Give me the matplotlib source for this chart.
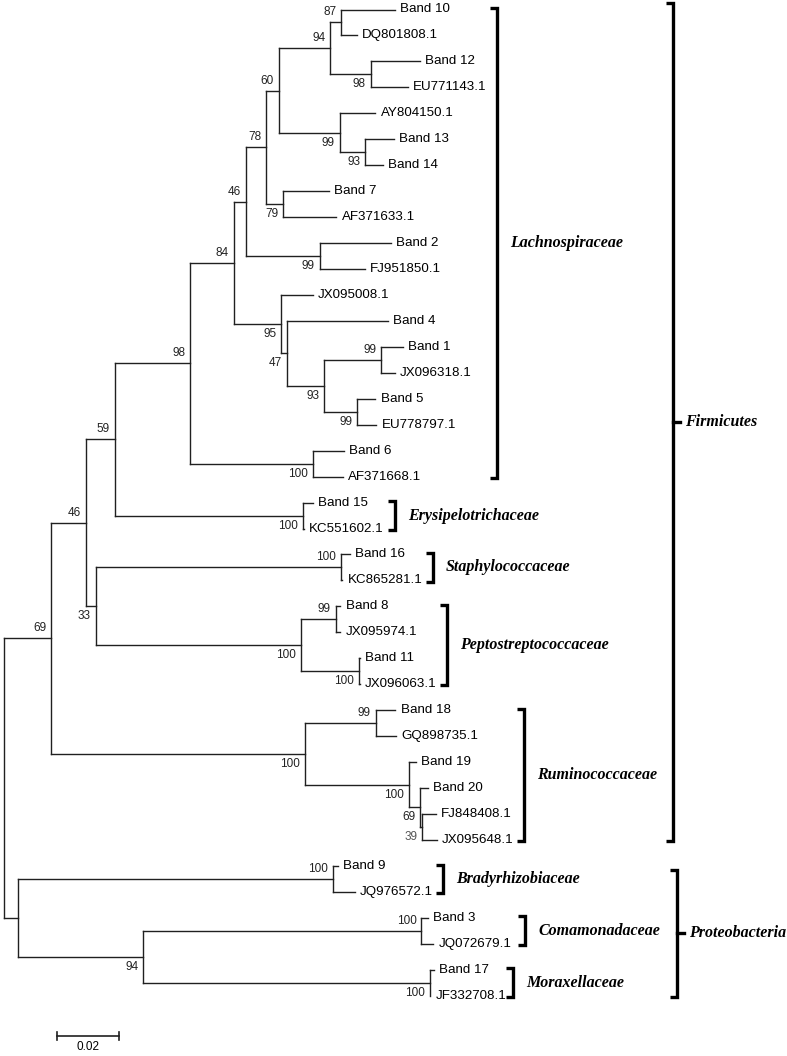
import matplotlib
matplotlib.use("Agg")
import matplotlib.pyplot as plt

plt.rcParams['font.family'] = ['Liberation Sans', 'DejaVu Sans']

# leaves from top to bottom, their parent node and terminal branch length
leaves = ["Band 10", "DQ801808.1", "Band 12", "EU771143.1", "AY804150.1",
          "Band 13", "Band 14", "Band 7", "AF371633.1", "Band 2", "FJ951850.1",
          "JX095008.1", "Band 4", "Band 1", "JX096318.1", "Band 5", "EU778797.1",
          "Band 6", "AF371668.1", "Band 15", "KC551602.1", "Band 16", "KC865281.1",
          "Band 8", "JX095974.1", "Band 11", "JX096063.1", "Band 18", "GQ898735.1",
          "Band 19", "Band 20", "FJ848408.1", "JX095648.1", "Band 9", "JQ976572.1",
          "Band 3", "JQ072679.1", "Band 17", "JF332708.1"]
leaf_parent = ["L87", "L87", "L98b", "L98b", "L99a", "L93a", "L93a", "L79", "L79",
               "L99b", "L99b", "L95", "L47", "L99c", "L99c", "L99d", "L99d", "L100",
               "L100", "E100", "E100", "S100", "S100", "Pe99", "Pe99", "Pe100b",
               "Pe100b", "R99", "R99", "R100b", "R69", "R39", "R39", "B100", "B100",
               "C100", "C100", "M100", "M100"]
leaf_len = [0.0173, 0.0049, 0.0159, 0.0120, 0.0116, 0.0092, 0.0056, 0.0148, 0.0173,
            0.0232, 0.0146, 0.0102, 0.0327, 0.0070, 0.0043, 0.0060, 0.0063, 0.0100,
            0.0097, 0.0032, 0.0003, 0.0027, 0.0003, 0.0015, 0.0015, 0.0002, 0.0002,
            0.0064, 0.0067, 0.0021, 0.0025, 0.0044, 0.0046, 0.0015, 0.0070, 0.0020,
            0.0038, 0.0013, 0.0002]

# internal nodes: name, parent, branch length, bootstrap
node_names = ["root", "P", "F69", "F46", "F59", "L98", "L84", "L46", "L78", "L60",
              "L94", "L87", "L98b", "L99a", "L93a", "L79", "L99b", "L95", "L47",
              "L93b", "L99c", "L99d", "L100", "E100", "F33", "S100", "Pe100", "Pe99",
              "Pe100b", "R100", "R99", "R100b", "R69", "R39", "B100", "P94", "C100",
              "M100"]
node_parent = [None, "root", "root", "F69", "F46", "F59", "L98", "L84", "L46", "L78",
               "L60", "L94", "L94", "L60", "L99a", "L78", "L46", "L84", "L95",
               "L47", "L93b", "L93b", "L98", "F59", "F46", "F33", "F33", "Pe100",
               "Pe100", "F69", "R100", "R100", "R100b", "R69", "P", "P", "P94",
               "P94"]
node_len = [0.0, 0.0045, 0.0152, 0.0113, 0.0094, 0.0245, 0.0141, 0.0040, 0.0065,
            0.0040, 0.0168, 0.0036, 0.0131, 0.0198, 0.0083, 0.0054, 0.0238, 0.0154,
            0.0018, 0.0120, 0.0186, 0.0107, 0.0397, 0.0610, 0.0032, 0.0796, 0.0665,
            0.0113, 0.0189, 0.0823, 0.0230, 0.0338, 0.0037, 0.0006, 0.1022, 0.0406,
            0.0902, 0.0929]
node_support = [None, None, 69, 46, 59, 98, 84, 46, 78, 60, 94, 87, 98, 99, 93, 79,
                99, 95, 47, 93, 99, 99, 100, 100, 33, 100, 100, 99, 100, 100, 99,
                100, 69, 39, 100, 94, 100, 100]
# 1 = label above the branch, -1 = below
support_side = [0, 0, 1, 1, 1, 1, 1, 1, 1, 1, 1, 1, -1, -1, -1, -1, -1, -1, -1, -1,
                1, -1, -1, -1, -1, 1, -1, 1, -1, -1, 1, -1, -1, -1, 1, -1, 1, -1]

# clade brackets: label, first leaf, last leaf
clades = ["Lachnospiraceae", "Erysipelotrichaceae", "Staphylococcaceae",
          "Peptostreptococcaceae", "Ruminococcaceae", "Bradyrhizobiaceae",
          "Comamonadaceae", "Moraxellaceae"]
clade_first = [0, 19, 21, 23, 27, 33, 35, 37]
clade_last = [18, 20, 22, 26, 32, 34, 36, 38]
clade_xpx = [497, 395, 433, 447, 524, 443, 525, 513]

phyla = ["Firmicutes", "Proteobacteria"]
phyla_first = [0, 33]
phyla_last = [32, 38]
phyla_xpx = [673, 677]
phyla_pad = [-0.25, 0.15]

PX = 3085.0  # pixels per substitution unit


def px2d(p):
    return (p - 4) / PX


def py2i(p):
    return (p - 9.5) / 25.95


children = {n: [] for n in node_names}
for n, p in zip(node_names, node_parent):
    if p is not None:
        children[p].append(n)
for i, p in enumerate(leaf_parent):
    children[p].append(i)

blen = dict(zip(node_names, node_len))
par = dict(zip(node_names, node_parent))
xpos = {}


def get_x(n):
    if n not in xpos:
        xpos[n] = 0.0 if par[n] is None else get_x(par[n]) + blen[n]
    return xpos[n]


ypos = {}


def get_y(n):
    if isinstance(n, int):
        return n
    if n not in ypos:
        ys = [get_y(c) for c in children[n]]
        ypos[n] = (min(ys) + max(ys)) / 2
    return ypos[n]


fig = plt.figure(figsize=(7.87, 10.56), dpi=100)
ax = fig.add_axes([0, 0, 1, 1])
ax.set_xlim(px2d(0), px2d(787))
ax.set_ylim(py2i(1056), py2i(0))
ax.axis('off')

lc = '#202020'
for n in node_names:
    x = get_x(n)
    ys = [get_y(c) for c in children[n]]
    ax.plot([x, x], [min(ys), max(ys)], color=lc, lw=1.0)
    if par[n] is not None:
        ax.plot([get_x(par[n]), x], [get_y(n)] * 2, color=lc, lw=1.0)

for i, name in enumerate(leaves):
    x0 = get_x(leaf_parent[i])
    x1 = x0 + leaf_len[i]
    ax.plot([x0, x1], [i, i], color=lc, lw=1.0)
    ax.annotate(name, (x1, i), xytext=(3.8, 0), textcoords='offset points',
                ha='left', va='center', fontsize=9.6, color='black')

for n, s, side in zip(node_names, node_support, support_side):
    if s is None:
        continue
    col = '#555555' if s == 39 else '#222222'
    ax.annotate(str(s), (get_x(n), get_y(n)), xytext=(-3.5, 7.2 * side),
                textcoords='offset points', ha='right', va='center',
                fontsize=8.5, color=col)


def bracket(x, y0, y1, lw=2.4):
    hook = px2d(7) - px2d(0)
    ax.plot([x - hook, x, x, x - hook], [y0, y0, y1, y1], color='black', lw=lw,
            solid_joinstyle='miter', solid_capstyle='butt')


for name, a, b, xp in zip(clades, clade_first, clade_last, clade_xpx):
    y0, y1 = a - 0.05, b + 0.05
    bracket(px2d(xp), y0, y1)
    ax.text(px2d(xp + 13), (y0 + y1) / 2, name, family='Liberation Serif',
            fontweight='bold', fontstyle='italic', fontsize=11.5,
            ha='left', va='center')

for name, a, b, xp, pad in zip(phyla, phyla_first, phyla_last, phyla_xpx, phyla_pad):
    y0, y1 = a + pad, b + 0.05
    bracket(px2d(xp), y0, y1)
    ym = (y0 + y1) / 2
    ax.plot([px2d(xp), px2d(xp + 7)], [ym, ym], color='black', lw=2.4)
    ax.text(px2d(xp + 12), ym, name, family='Liberation Serif',
            fontweight='bold', fontstyle='italic', fontsize=11.5,
            ha='left', va='center')

# scale bar
sx = px2d(57.3)
sy = py2i(1036)
ax.plot([sx, sx + 0.02], [sy, sy], color=lc, lw=1.2)
for xx in (sx, sx + 0.02):
    ax.plot([xx, xx], [sy - 0.17, sy + 0.17], color=lc, lw=1.2)
ax.text(sx + 0.01, py2i(1047), "0.02", ha='center', va='center', fontsize=8.5)

fig.savefig("out.png", dpi=100)
